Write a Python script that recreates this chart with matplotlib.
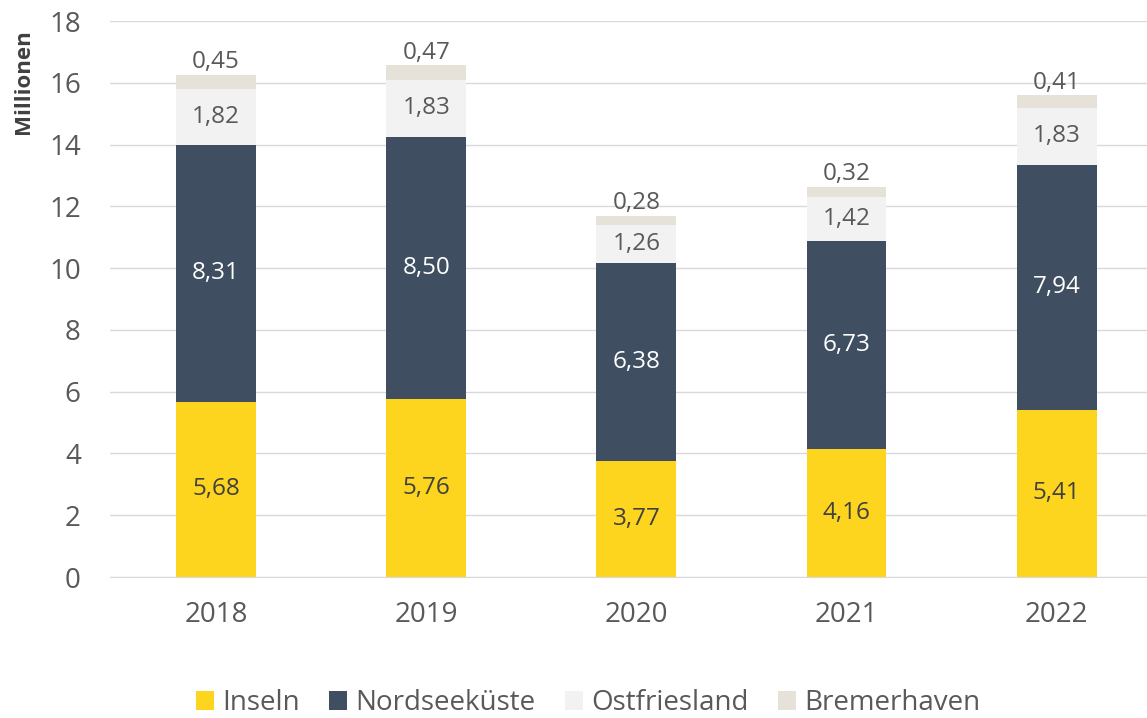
import matplotlib
matplotlib.use("Agg")
import matplotlib.pyplot as plt
from matplotlib.patches import Patch

years = ["2018", "2019", "2020", "2021", "2022"]
inseln = [5.68, 5.76, 3.77, 4.16, 5.41]
nordsee = [8.31, 8.50, 6.38, 6.73, 7.94]
ostfr = [1.82, 1.83, 1.26, 1.42, 1.83]
bremer = [0.45, 0.47, 0.28, 0.32, 0.41]

series = ["Inseln", "Nordseeküste", "Ostfriesland", "Bremerhaven"]
colors = ["#FDD51F", "#3F4E61", "#F2F2F2", "#E6E1D9"]
label_colors = ["#404040", "#FFFFFF", "#595959", "#595959"]

plt.rcParams['font.family'] = ['Open Sans', 'DejaVu Sans']

fig = plt.figure(figsize=(11.47, 7.18), dpi=100)
W, H = 1147, 718
ax = fig.add_axes([110 / W, (H - 577) / H, (W - 110) / W, (577 - 21) / H])

x = list(range(len(years)))
width = 0.38
bottoms = [0.0] * len(years)
data = [inseln, nordsee, ostfr, bremer]
for si, vals in enumerate(data):
    ax.bar(x, vals, width, bottom=bottoms, color=colors[si], zorder=2)
    for i, v in enumerate(vals):
        txt = f"{v:.2f}".replace(".", ",")
        if si == 3:
            ax.text(x[i], bottoms[i] + v + 0.03, txt, ha="center", va="bottom",
                    fontsize=17.5, color=label_colors[si])
        else:
            ax.text(x[i], bottoms[i] + v / 2, txt, ha="center", va="center",
                    fontsize=17.5, color=label_colors[si])
    bottoms = [b + v for b, v in zip(bottoms, vals)]

ax.set_ylim(0, 18)
ax.set_yticks(range(0, 19, 2))
ax.set_xlim(-0.505, 4.43)
ax.set_xticks(x)
ax.set_xticklabels(years)
ax.tick_params(axis="both", length=0, labelsize=20, colors="#595959")
ax.tick_params(axis="x", pad=17)
ax.tick_params(axis="y", pad=21)
ax.grid(axis="y", color="#D9D9D9", linewidth=1, zorder=0)
for s in ax.spines.values():
    s.set_visible(False)
ax.spines["bottom"].set_visible(True)
ax.spines["bottom"].set_color("#D9D9D9")

ax.set_ylabel("Millionen", fontsize=16, fontweight="bold", color="#404040")
ax.yaxis.set_label_coords((34 - 110) / 1037, (577 - 82) / 556)

handles = [Patch(facecolor=c, edgecolor="none") for c in colors]
fig.legend(handles, series, loc="center", bbox_to_anchor=(588 / W, 1 - 703 / H),
           ncol=4, frameon=False, fontsize=20, labelcolor="#595959",
           handlelength=0.65, handleheight=0.65, handletextpad=0.3, columnspacing=1.05)

fig.savefig("out.png", dpi=100)
